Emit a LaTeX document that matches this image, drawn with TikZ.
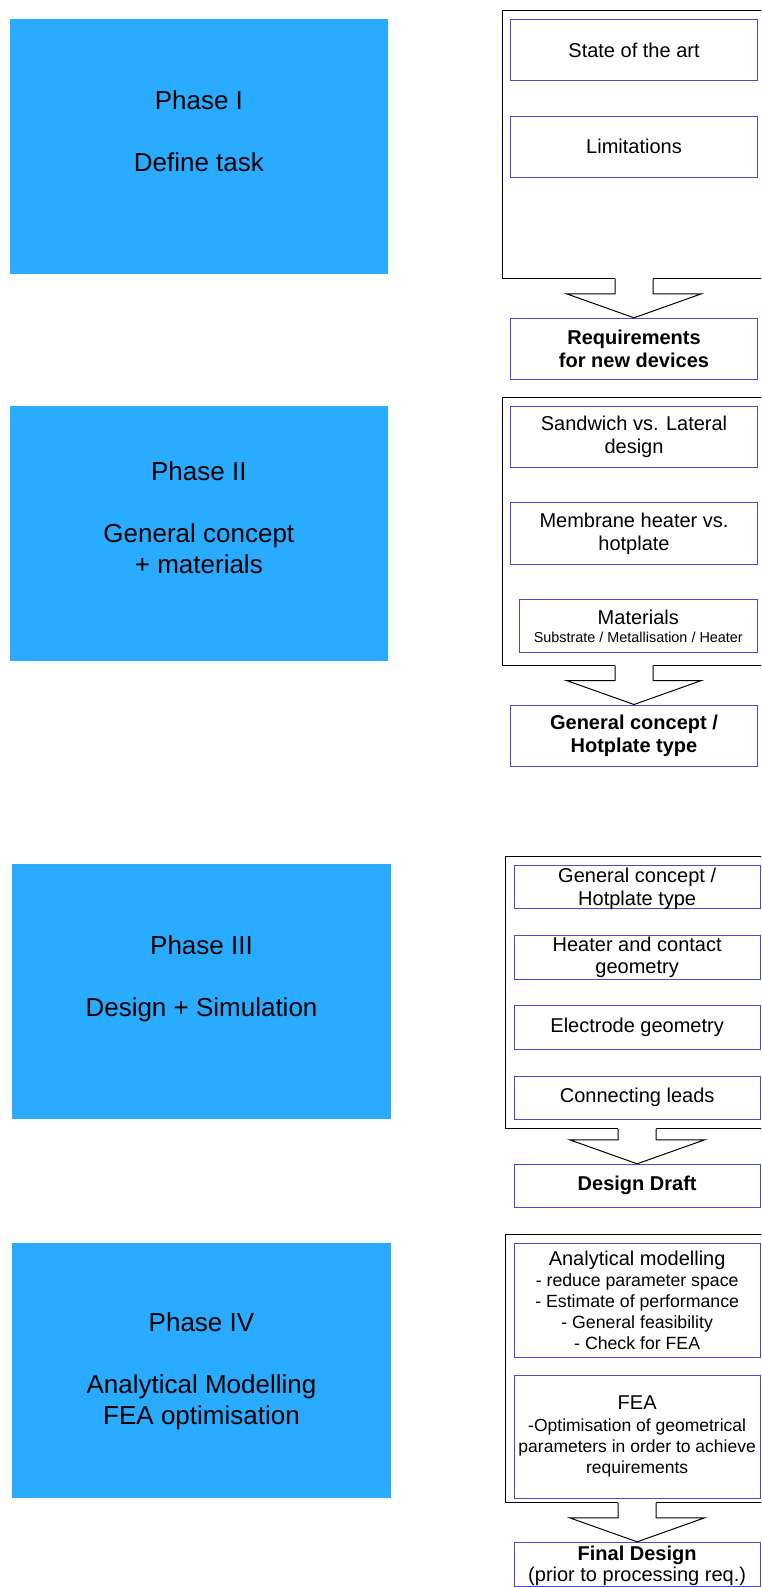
\documentclass[tikz,border=0pt]{standalone}
\usepackage{fontspec}
\setmainfont{Liberation Sans}
\usetikzlibrary{calc}
\definecolor{phaseblue}{RGB}{41,171,255}
\definecolor{itemblue}{RGB}{72,72,220}

% block arrow from a stage box to its result box
\newcommand{\flowarrow}[2]{%
  \coordinate (t) at (#2.north |- #1.south);
  \coordinate (s) at ($(#2.north)+(0,-24)$);
  \fill[white] ($(t)+(-19,-1)$) -- ($(s)+(-19,0)$) -- ($(s)+(-67.5,0)$) -- (#2.north)
    -- ($(s)+(67.5,0)$) -- ($(s)+(19,0)$) -- ($(t)+(19,-1)$) -- cycle;
  \draw[line width=1pt] ($(t)+(-19,0)$) -- ($(s)+(-19,0)$) -- ($(s)+(-67.5,0)$) -- (#2.north)
    -- ($(s)+(67.5,0)$) -- ($(s)+(19,0)$) -- ($(t)+(19,0)$);
}

\begin{document}
\begin{tikzpicture}[x=1pt, y=-1pt,
  phase/.style={fill=phaseblue, inner sep=0pt, align=center, font=\fontsize{26}{31}\selectfont},
  stage/.style={draw=black, line width=1pt, fill=white, inner sep=0pt},
  item/.style={draw=itemblue, line width=1pt, fill=white, inner xsep=2pt, inner ysep=0pt,
    align=center, font=\fontsize{20}{23}\selectfont}]
\useasboundingbox (0,0) rectangle (761,1587);
\clip (0,0) rectangle (761,1587);

% phases
\node[phase, minimum width=377.7pt, minimum height=255pt] (ph1) at (198.85,146.5) {Phase I\\[31pt]Define task\\ \mbox{}};
\node[phase, minimum width=377.7pt, minimum height=254.7pt] (ph2) at (198.85,533.35) {Phase II\\[31pt]General concept\\+ materials\\ \mbox{}};
\node[phase, minimum width=379pt, minimum height=255.3pt] (ph3) at (201.5,991.65) {Phase III\\[31pt]Design + Simulation\\ \mbox{}};
\node[phase, minimum width=379pt, minimum height=255pt] (ph4) at (201.5,1370.8) {Phase IV\\[31pt]Analytical Modelling\\FEA optimisation};

% phase I
\node[stage, minimum width=265.3pt, minimum height=267.3pt] (st1) at (635.35,144.35) {};
\node[item, minimum width=246.6pt, minimum height=61.4pt] (art) at (634,50) {State of the art};
\node[item, minimum width=246.6pt, minimum height=61.3pt] (lim) at (634,146.65) {Limitations};
\node[item, minimum width=246.6pt, minimum height=61pt, font=\fontsize{20}{23}\selectfont\bfseries] (req) at (634,348.8) {Requirements\\for new devices};
\flowarrow{st1}{req}

% phase II
\node[stage, minimum width=265.3pt, minimum height=268pt] (st2) at (635.35,531) {};
\node[item, minimum width=246.6pt, minimum height=61.3pt] (sand) at (634,436.65) {Sandwich vs. Lateral\\design};
\node[item, minimum width=246.6pt, minimum height=61.3pt] (memb) at (634,533.35) {Membrane heater vs.\\hotplate};
\node[item, minimum width=238pt, minimum height=53.4pt] (mat) at (638.3,626) {Materials\\[-5pt]{\fontsize{14.4}{16}\selectfont Substrate / Metallisation / Heater}};
\node[item, minimum width=246.6pt, minimum height=61.7pt, font=\fontsize{20}{23}\selectfont\bfseries] (conc) at (634,735.85) {General concept /\\Hotplate type};
\flowarrow{st2}{conc}

% phase III
\node[stage, minimum width=263pt, minimum height=272.3pt] (st3) at (636.5,992.15) {};
\node[item, minimum width=245.7pt, minimum height=43.3pt, font=\fontsize{20}{22.5}\selectfont] (gc) at (637.15,886.65) {General concept /\\\smash{Hotplate type}};
\node[item, minimum width=245.7pt, minimum height=44.3pt, font=\fontsize{20}{21.6}\selectfont] (heat) at (637.15,957.15) {Heater and contact\\geometry};
\node[item, minimum width=245.7pt, minimum height=43.6pt] (elec) at (637.15,1027.5) {Electrode geometry};
\node[item, minimum width=245.7pt, minimum height=43.3pt] (leads) at (637.15,1097.65) {Connecting leads};
\node[item, minimum width=245.7pt, minimum height=43pt, font=\fontsize{20}{23}\selectfont\bfseries] (draft) at (637.15,1185.8) {Design Draft};
\flowarrow{st3}{draft}

% phase IV
\node[stage, minimum width=262.3pt, minimum height=268pt] (st4) at (636.85,1368.3) {};
\node[item, minimum width=245.7pt, minimum height=114pt, font=\fontsize{17.7}{21}\selectfont] (ana) at (637.15,1300.3) {{\fontsize{20}{21}\selectfont Analytical modelling}\\- reduce parameter space\\- Estimate of performance\\- General feasibility\\- Check for FEA};
\node[item, minimum width=245.7pt, minimum height=123.3pt, font=\fontsize{17.5}{21.3}\selectfont] (fea) at (637.15,1436.65) {{\fontsize{20}{21}\selectfont FEA}\\-Optimisation of geometrical\\parameters in order to achieve\\requirements};
\node[item, minimum width=245.7pt, minimum height=43.7pt, font=\fontsize{20}{21}\selectfont] (final) at (637.15,1564.15) {\textbf{Final Design}\\\smash{(prior to processing req.)}};
\flowarrow{st4}{final}

\end{tikzpicture}
\end{document}
